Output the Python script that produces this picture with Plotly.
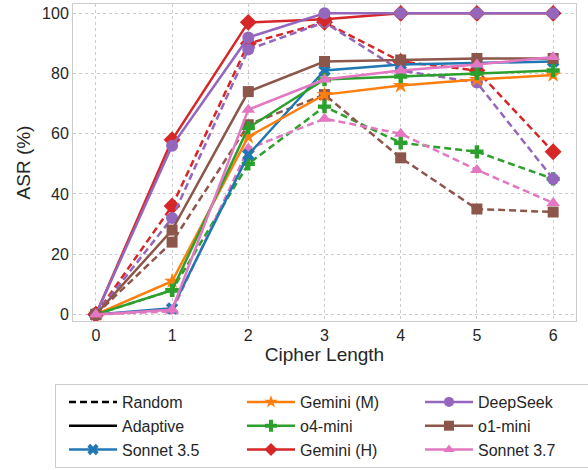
import plotly.graph_objects as go

x_vals = [0, 1, 2, 3, 4, 5, 6]

models = ["Sonnet 3.5", "Gemini (M)", "o4-mini", "Gemini (H)", "DeepSeek", "o1-mini", "Sonnet 3.7"]
colors = ["#1f77b4", "#ff7f0e", "#2ca02c", "#d62728", "#9467bd", "#8c564b", "#e377c2"]
symbols = ["x", "star", "cross", "diamond", "circle", "square", "triangle-up"]
msizes = [11, 12, 11, 13, 12, 11, 12]

adaptive = {
    "Sonnet 3.5": [0, 2, 53, 81, 83, 83.5, 84],
    "Gemini (M)": [0, 11, 59, 73, 76, 78, 79.5],
    "o4-mini": [0, 8, 62, 78, 79, 80, 81],
    "Gemini (H)": [0, 58, 97, 98, 100, 100, 100],
    "DeepSeek": [0, 56, 92, 100, 100, 100, 100],
    "o1-mini": [0, 28, 74, 84, 84.5, 85, 85],
    "Sonnet 3.7": [0, 1.5, 68, 78, 81, 83, 85.5],
}
random_ = {
    "o4-mini": [0, 8, 50, 69, 57, 54, 45],
    "Gemini (H)": [0, 36, 90, 97, 84, 81, 54],
    "DeepSeek": [0, 32, 88, 97, 81, 77, 45],
    "o1-mini": [0, 24, 63, 73, 52, 35, 34],
    "Sonnet 3.7": [0, 1, 55, 65, 60, 48, 37],
}

x_ticks = [0, 1, 2, 3, 4, 5, 6]
y_ticks = [0, 20, 40, 60, 80, 100]

fig = go.Figure()

for m, c, s, ms in zip(models, colors, symbols, msizes):
    if m in random_:
        fig.add_trace(go.Scatter(
            x=x_vals, y=random_[m], mode="lines+markers", showlegend=False,
            line=dict(color=c, width=2.5, dash="7px,4px"),
            marker=dict(symbol=s, size=ms, color=c, line=dict(width=0)),
        ))
for m, c, s, ms in zip(models, colors, symbols, msizes):
    fig.add_trace(go.Scatter(
        x=x_vals, y=adaptive[m], mode="lines+markers", showlegend=False,
        line=dict(color=c, width=2.5),
        marker=dict(symbol=s, size=ms, color=c, line=dict(width=0)),
    ))

# legend entries (row-major ordering to mimic 3-column layout)
legend_items = [
    ("Random", "black", None, "7px,4px", 1),
    ("Gemini (M)", colors[1], symbols[1], "solid", 2),
    ("DeepSeek", colors[4], symbols[4], "solid", 3),
    ("Adaptive", "black", None, "solid", 4),
    ("o4-mini", colors[2], symbols[2], "solid", 5),
    ("o1-mini", colors[5], symbols[5], "solid", 6),
    ("Sonnet 3.5", colors[0], symbols[0], "solid", 7),
    ("Gemini (H)", colors[3], symbols[3], "solid", 8),
    ("Sonnet 3.7", colors[6], symbols[6], "solid", 9),
]
for name, c, s, d, rank in legend_items:
    if s is None:
        fig.add_trace(go.Scatter(x=[None], y=[None], mode="lines", name=name,
                                 line=dict(color=c, width=2.5, dash=d), legendrank=rank))
    else:
        fig.add_trace(go.Scatter(x=[None], y=[None], mode="lines+markers", name=name,
                                 line=dict(color=c, width=2.5, dash=d),
                                 marker=dict(symbol=s, size=10, color=c, line=dict(width=0)),
                                 legendrank=rank))

font_family = "Liberation Sans, Arial, sans-serif"
fig.update_layout(
    width=588, height=470,
    margin=dict(l=73, r=12, t=4, b=149, autoexpand=False),
    paper_bgcolor="white", plot_bgcolor="white",
    font=dict(family=font_family, size=16, color="#262626"),
    xaxis=dict(
        range=[-0.3, 6.3], tickvals=x_ticks, showgrid=True, gridcolor="#cccccc",
        griddash="dot", gridwidth=1, zeroline=False, showline=True, linecolor="#cccccc",
        linewidth=1, mirror=True, ticks="", title=dict(text="Cipher Length", standoff=2),
        tickfont=dict(size=16), automargin=False,
    ),
    yaxis=dict(
        range=[-2.2, 103.1], tickvals=y_ticks, showgrid=True, gridcolor="#cccccc",
        griddash="dot", gridwidth=1, zeroline=False, showline=True, linecolor="#cccccc",
        linewidth=1, mirror=True, ticks="", title=dict(text="ASR (%)", standoff=6),
        tickfont=dict(size=16), automargin=False,
    ),
    legend=dict(
        orientation="h", xref="paper", yref="paper",
        x=(55 - 73) / 503, y=(321 - 384) / 317, xanchor="left", yanchor="top",
        bordercolor="#cccccc", borderwidth=1, bgcolor="white",
        font=dict(size=16, color="#262626"),
        indentation=8, itemwidth=48,
        entrywidth=107, entrywidthmode="pixels", tracegroupgap=0,
        traceorder="normal",
    ),
    showlegend=True,
)

fig.write_html("out.html", config={"displayModeBar": False},
               post_script="document.body.style.margin='0';")
